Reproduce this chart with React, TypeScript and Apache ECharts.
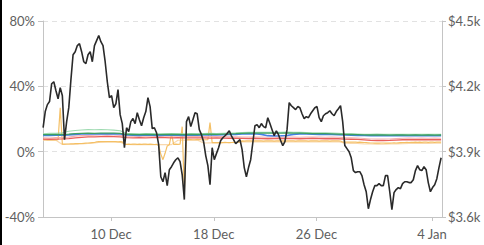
import { useEffect, useRef } from 'react';
import * as echarts from 'echarts';

const START = Date.UTC(2021, 11, 4, 17, 0);
const STEP_4H = 4 * 3600 * 1000;
const STEP_12H = 12 * 3600 * 1000;
const X_MIN = Date.UTC(2021, 11, 4, 16, 48);
const X_MAX = Date.UTC(2022, 0, 4, 18, 40);
const X_TICK_DATES = [Date.UTC(2021, 11, 10), Date.UTC(2021, 11, 18), Date.UTC(2021, 11, 26), Date.UTC(2022, 0, 4)];
const MONTHS = ['Jan', 'Feb', 'Mar', 'Apr', 'May', 'Jun', 'Jul', 'Aug', 'Sep', 'Oct', 'Nov', 'Dec'];

// Price ($), every 4 hours
const priceValues = [
  4010, 4084, 4116, 4130, 4212, 4221, 4180, 4143, 4194, 4157,
  3955, 4038, 4102, 4231, 4345, 4359, 4387, 4396, 4359, 4313,
  4304, 4345, 4359, 4313, 4387, 4410, 4433, 4405, 4387, 4313,
  4221, 4148, 4157, 4102, 4120, 4185, 4070, 4029, 3918, 4010,
  3992, 4038, 4052, 4029, 4079, 4047, 4019, 4056, 4084, 4148,
  4107, 4006, 4010, 3987, 3932, 3785, 3762, 3804, 3744, 3817,
  3831, 3849, 3863, 3872, 3854, 3794, 3680, 4038, 4061, 4015,
  4047, 4079, 4074, 4001, 3978, 3946, 3882, 3836, 3748, 3918,
  3863, 3891, 3918, 3951, 3964, 3973, 3983, 3996, 3973, 3955,
  3937, 3946, 3955, 3909, 3827, 3785, 3827, 3863, 3941, 4019,
  4024, 4010, 4029, 4015, 4010, 4056, 4029, 4001, 3973, 3996,
  3978, 3951, 3928, 3946, 4001, 4125, 4111, 4102, 4093, 4107,
  4102, 4074, 4052, 4061, 4056, 4074, 4088, 4102, 4107, 4056,
  4038, 4065, 4074, 4079, 4088, 4074, 4065, 4084, 4097, 4111,
  4038, 3928, 3914, 3900, 3872, 3813, 3804, 3808, 3808, 3790,
  3748, 3716, 3638, 3680, 3716, 3744, 3744, 3753, 3744, 3744,
  3790, 3790, 3716, 3634, 3712, 3726, 3735, 3730, 3753, 3762,
  3762, 3758, 3758, 3771, 3813, 3836, 3817, 3813, 3831, 3817,
  3758, 3716, 3735, 3748, 3776, 3827, 3872,
];

// Orange (%), every 4 hours
const orangeValues = [
  7.3, 7.3, 7.2, 7.3, 7.2, 7.3, 7.2, 7.3,
  26.9,
  4.6, 4.6, 4.7, 4.7, 4.8, 4.8, 4.9, 4.9, 5.0, 5.0, 5.1, 5.2, 5.3, 5.4, 5.5, 5.6,
  6.0, 6.1, 6.1, 6.2, 6.1, 6.2, 6.2, 6.1, 6.2, 6.1, 6.0, 6.1, 6.0,
  4.6, 4.5, 4.6, 4.5, 4.6, 4.6, 4.5, 4.6, 4.5, 4.6, 4.6, 4.5, 4.6, 4.5, 4.4, 4.5, 3.8,
  -1.5, -4.9, -1.0, 3.5, 4.3, 11.0, 4.5, 4.6, 4.5, 4.6,
  15.3, -24.5, 7.3,
  7.5, 7.4, 7.3, 7.3, 7.5, 7.4, 7.3, 7.2, 7.3, 7.4,
  17.8,
  5.5, 5.6, 5.5, 5.6, 5.5, 5.6, 5.7, 5.6, 5.5, 5.6, 5.7, 5.6, 5.8, 6.0,
  6.6, 6.5, 6.6, 6.7, 6.6, 6.5, 6.6, 6.6, 6.7, 6.6,
  6.5, 6.6, 6.7, 6.6, 6.6, 6.5, 6.6, 6.7, 6.6, 6.6,
  6.5, 6.6, 6.6, 6.7, 6.6, 6.5, 6.6, 6.6, 6.7, 6.6,
  6.6, 6.5, 6.6, 6.7, 6.6, 6.6, 6.5, 6.6, 6.6, 6.7,
  6.6, 6.5, 6.6, 6.6, 6.7, 6.6, 6.5,
  5.9, 5.8, 5.9, 5.8, 5.8, 5.9, 5.8, 5.7, 5.8, 5.7,
  5.6, 5.5, 5.4, 5.3, 5.3, 5.2, 5.3, 5.2, 5.3, 5.3,
  5.2, 5.3, 5.2, 5.3, 5.4, 5.3, 5.4, 5.5, 5.6, 5.6,
  5.7, 5.6, 5.7, 5.7, 5.8, 5.7, 5.8, 5.7, 5.8, 5.8,
  5.7, 5.8, 5.8, 5.7, 5.8, 5.8, 5.8,
];

// Other lines (%), every 12 hours
const darkGreenValues = [
  10.4, 10.4, 10.5, 10.5,
  10.7, 11.0, 11.2, 11.3, 11.2, 11.4, 11.3, 11.4, 11.2,
  10.6, 10.5, 10.4, 10.6, 10.5, 10.4, 10.5, 10.6, 10.5, 10.4, 10.6, 10.5, 10.6, 10.7, 10.6, 10.8, 10.9, 11.0,
  11.2, 11.3, 11.4, 11.3, 11.4, 11.3, 11.4, 11.5, 11.4, 11.3, 11.2, 11.1, 11.0, 11.0, 10.9, 10.8,
  10.6, 10.5, 10.4, 10.3, 10.2, 10.3, 10.2, 10.1, 10.2, 10.2, 10.1, 10.2, 10.1, 10.2, 10.1, 10.2,
];
const lightGreenValues = [
  11.0, 11.2, 11.3, 11.6,
  12.5, 13.0, 13.3, 13.5, 13.4, 13.6, 13.4, 13.2, 12.8,
  11.2, 11.0, 10.9, 11.1, 11.0, 10.9, 11.0, 11.1, 11.0, 10.9, 11.1, 11.0, 11.1, 11.2, 11.1, 11.3, 11.4, 11.5,
  11.7, 11.8, 11.9, 11.8, 11.9, 11.8, 11.9, 12.0, 11.9, 11.8, 11.7, 11.6, 11.5, 11.5, 11.4, 11.3,
  11.0, 10.9, 10.8, 10.7, 10.7, 10.8, 10.7, 10.6, 10.7, 10.7, 10.6, 10.7, 10.6, 10.7, 10.6, 10.7,
];
const redValues = [
  7.7, 7.6, 7.7, 7.8, 8.0,
  8.5, 8.8, 9.0, 9.1, 9.2, 9.3, 9.2, 9.1,
  8.6, 8.5, 8.6, 8.5, 8.6, 8.7, 8.6, 8.5, 8.6, 8.5, 8.4, 8.5, 8.4, 8.3, 8.4, 8.3, 8.2, 8.2,
  8.1, 8.0, 8.1, 8.0, 7.9, 8.0, 8.1, 8.0, 8.0, 7.9, 8.0, 8.1, 8.0, 7.9, 8.0, 7.9,
  7.7, 7.6, 7.5, 7.2, 6.9, 6.8, 6.8, 6.9, 7.1, 7.3, 7.4, 7.3, 7.4, 7.3, 7.4, 7.3,
];
const pinkValues = [
  8.5, 8.4, 8.6, 8.7, 8.9,
  9.5, 9.8, 10.0, 10.1, 10.2, 10.3, 10.2, 10.0,
  9.5, 9.4, 9.5, 9.4, 9.5, 9.6, 9.5, 9.4, 9.5, 9.4, 9.3, 9.4, 9.3, 9.2, 9.3, 9.2, 9.1, 9.1,
  9.0, 8.9, 9.0, 8.9, 8.8, 8.9, 9.0, 8.9, 8.9, 8.8, 8.9, 9.0, 8.9, 8.8, 8.9, 8.8,
  8.6, 8.5, 8.4, 8.1, 7.8, 7.7, 7.7, 7.8, 8.0, 8.2, 8.3, 8.2, 8.3, 8.2, 8.3, 8.2,
];
const blueValues = [
  10.0, 10.0, 10.1, 10.1,
  10.3, 10.6, 10.8, 10.9, 10.8, 11.0, 10.9, 11.0, 10.8,
  10.2, 10.1, 10.0, 10.2, 10.1, 10.0, 10.1, 10.2, 10.1, 10.0, 10.2, 10.1, 10.2, 10.3, 10.2, 10.4, 10.5, 10.6,
  10.8, 10.9, 11.0, 10.6, 9.8, 9.6, 9.7, 9.9, 10.6, 10.9, 10.8, 10.7, 10.6, 10.6, 10.5, 10.4,
  10.2, 10.1, 10.0, 9.9, 9.8, 9.9, 9.8, 9.7, 9.8, 9.8, 9.7, 9.8, 9.7, 9.8, 9.7, 9.8,
];
const peachValues = [
  7.0, 7.0, 7.0, 4.4,
  4.5, 4.6, 4.8, 5.0, 5.3, 5.8, 5.9, 5.9, 5.8,
  4.4, 4.3, 4.4, 4.3, 4.2, 4.3, 4.4, 4.3, 7.0, 7.1, 7.0, 7.1, 5.3, 5.4, 5.3, 5.4, 5.5, 5.6,
  6.0, 6.1, 6.0, 6.1, 6.0, 6.1, 6.0, 6.1, 6.0, 6.1, 6.0, 6.1, 6.0, 6.1, 6.0, 6.1,
  5.2, 5.1, 5.0, 4.8, 4.7, 4.6, 4.6, 4.7, 4.8, 4.9, 5.0, 5.0, 5.1, 5.1, 5.2, 5.2,
];

const pctTicks = { min: -40, max: 80, interval: 40 };
const priceTicks = { min: 3600, max: 4500, interval: 300 };

const toSeries = (vals: number[], step: number) => vals.map((v, i) => [START + i * step, v]);

const FONT = 'Lato, "Noto Sans", sans-serif';
const AXIS_COLOR = '#c4c4c4';
const LABEL_COLOR = '#606060';

function line(name: string, data: number[][], color: string, width: number, yAxisIndex: number, opacity = 1) {
  return {
    name,
    type: 'line',
    yAxisIndex,
    data,
    showSymbol: false,
    symbol: 'none',
    lineStyle: { color, width, opacity },
    itemStyle: { color },
  };
}

export default function App() {
  const ref = useRef<HTMLDivElement>(null);
  useEffect(() => {
    const chart = echarts.init(ref.current!, null, { renderer: 'svg' });
    chart.setOption({
      animation: false,
      backgroundColor: '#fff',
      grid: { left: 43, right: 42, top: 21, bottom: 28, containLabel: false },
      graphic: [
        { type: 'rect', left: 0, top: 0, shape: { x: 0, y: 0, width: 2, height: 245 }, style: { fill: '#000' } },
      ],
      xAxis: {
        type: 'value',
        min: X_MIN,
        max: X_MAX,
        axisLine: { show: true, onZero: false, lineStyle: { color: AXIS_COLOR, width: 1 } },
        axisTick: { show: true, length: 4, customValues: X_TICK_DATES, lineStyle: { color: AXIS_COLOR } },
        axisLabel: {
          customValues: X_TICK_DATES,
          margin: 10,
          color: LABEL_COLOR,
          fontFamily: FONT,
          fontSize: 13,
          formatter: (v: number) => {
            const d = new Date(v);
            return `${d.getUTCDate()} ${MONTHS[d.getUTCMonth()]}`;
          },
        },
        splitLine: { show: false },
      },
      yAxis: [
        {
          type: 'value',
          position: 'left',
          min: pctTicks.min,
          max: pctTicks.max,
          interval: pctTicks.interval,
          axisLine: { show: true, onZero: false, lineStyle: { color: AXIS_COLOR } },
          axisTick: { show: true, length: 5, lineStyle: { color: AXIS_COLOR } },
          axisLabel: { formatter: '{value}%', margin: 8, color: LABEL_COLOR, fontFamily: FONT, fontSize: 13 },
          splitLine: { show: true, lineStyle: { color: '#e2e2e2', type: [5, 4] } },
        },
        {
          type: 'value',
          position: 'right',
          min: priceTicks.min,
          max: priceTicks.max,
          interval: priceTicks.interval,
          axisLine: { show: true, onZero: false, lineStyle: { color: AXIS_COLOR } },
          axisTick: { show: true, length: 4, lineStyle: { color: AXIS_COLOR } },
          axisLabel: {
            formatter: (v: number) => `$${(v / 1000).toFixed(1)}k`,
            margin: 6,
            color: LABEL_COLOR,
            fontFamily: FONT,
            fontSize: 13,
          },
          splitLine: { show: false },
        },
      ],
      series: [
        line('peach', toSeries(peachValues, STEP_12H), '#f8d4a4', 1.1, 0, 0.9),
        line('orange', toSeries(orangeValues, STEP_4H), '#f3bd5e', 1.2, 0, 0.95),
        line('pink', toSeries(pinkValues, STEP_12H), '#f3a9a9', 1.1, 0, 0.9),
        line('red', toSeries(redValues, STEP_12H), '#e8605c', 1.3, 0),
        line('blue', toSeries(blueValues, STEP_12H), '#4580e6', 1.6, 0),
        line('lightGreen', toSeries(lightGreenValues, STEP_12H), '#93d6a8', 1.1, 0, 0.9),
        line('darkGreen', toSeries(darkGreenValues, STEP_12H), '#3d9f5f', 1.3, 0),
        line('price', toSeries(priceValues, STEP_4H), '#2a2a2a', 1.6, 1),
      ],
    });
    return () => chart.dispose();
  }, []);
  return (
    <div
      ref={ref}
      style={{ position: 'fixed', left: 0, top: 0, width: 484, height: 245, background: '#fff' }}
    />
  );
}
